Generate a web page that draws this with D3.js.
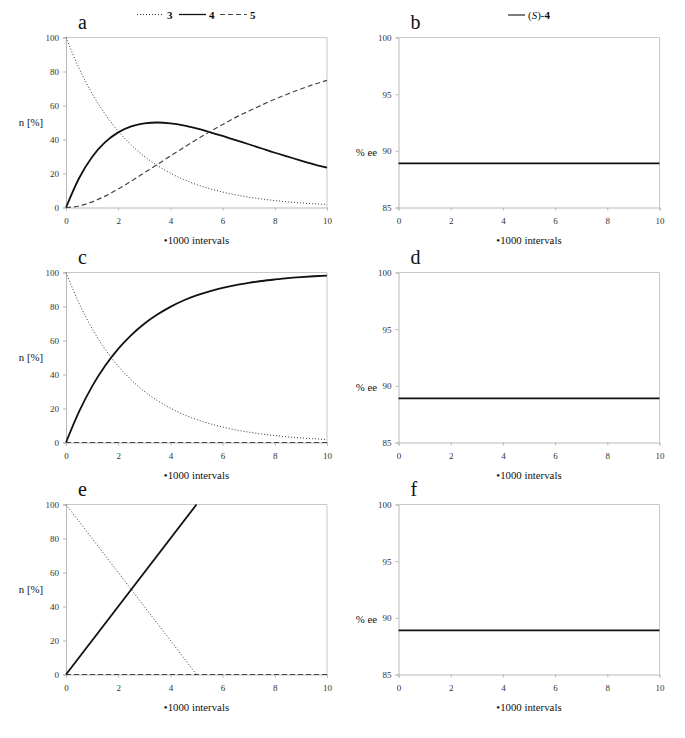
<!DOCTYPE html>
<html><head><meta charset="utf-8">
<script src="https://cdn.jsdelivr.net/npm/d3@7"></script>
<style>body{margin:0;background:#fff}svg{display:block}</style>
</head><body>
<script>
// ---- data ----
const xs = [0,0.5,1,1.5,2,2.5,3,3.5,4,4.5,5,5.5,6,6.5,7,7.5,8,8.5,9,9.5,10];
const a3 = [100,81.9,67.0,54.9,44.9,36.8,30.1,24.7,20.2,16.5,13.5,11.1,9.1,7.4,6.1,5.0,4.1,3.3,2.7,2.2,1.8];
const a4 = [0,17.2,29.7,38.4,44.2,47.7,49.5,50.0,49.5,48.3,46.5,44.4,42.1,39.6,37.2,34.7,32.2,29.9,27.6,25.4,23.4];
const a5 = [0,0.9,3.3,6.7,10.9,15.5,20.4,25.3,30.3,35.2,40.0,44.5,48.8,53.0,56.7,60.3,63.7,66.8,69.7,72.4,74.8];
const c3 = [100,81.9,67.0,54.9,44.9,36.8,30.1,24.7,20.2,16.5,13.5,11.1,9.1,7.4,6.1,5.0,4.1,3.3,2.7,2.2,1.8];
const c4 = [0,18.1,33.0,45.1,55.1,63.2,69.9,75.3,79.8,83.5,86.5,88.9,90.9,92.6,93.9,95.0,95.9,96.7,97.3,97.8,98.2];
const c5 = [0,0,0,0,0,0,0,0,0,0,0,0,0,0,0,0,0,0,0,0,0];
const eX34 = [0,5];
const e3 = [100,0];
const e4 = [0,100];
const eX5 = [0,10];
const e5 = [0,0];
const eeX = [0,10];
const eeB = [88.9,88.9];
const eeD = [88.9,88.9];
const eeF = [88.9,88.9];
const xTicks = [0,2,4,6,8,10];
const nTicks = [0,20,40,60,80,100];
const eeTicks = [85,90,95,100];
const panelLetters = ["a","b","c","d","e","f"];

// ---- layout ----
const W = 685, H = 738;
const svg = d3.select("body").append("svg").attr("width",W).attr("height",H);
const FONT = "\"Liberation Serif\", serif";
const colX = [66, 398.5];
const rowY = [37.5, 272.5, 504.5];
const pw = 261, ph = 170;

const styles = {
  dot:  {stroke:"#333", width:1, dash:"1,2"},
  solid:{stroke:"#111", width:1.8, dash:null},
  dash: {stroke:"#444", width:1.2, dash:"5,3"}
};

function txt(sel){ return sel.style("font-family",FONT); }

function panel(col,row,letter,yDomain,yTicks,yTitle,series){
  const x0 = colX[col], y0 = rowY[row];
  const g = svg.append("g").attr("transform",`translate(${x0},${y0})`);
  const x = d3.scaleLinear().domain([0,10]).range([0,pw]);
  const y = d3.scaleLinear().domain(yDomain).range([ph,0]);
  g.append("path").attr("d",`M0,0H${pw}V${ph}`).attr("fill","none").attr("stroke","#c8c8c8").attr("stroke-width",1);
  const ya = g.append("g").call(d3.axisLeft(y).tickValues(yTicks).tickSize(3).tickPadding(4));
  const xa = g.append("g").attr("transform",`translate(0,${ph})`).call(d3.axisBottom(x).tickValues(xTicks).tickSize(3).tickPadding(7));
  [ya,xa].forEach(a=>{
    a.attr("font-family",null).attr("font-size",null);
    a.selectAll("path,line").attr("stroke","#b8b8b8");
    txt(a.selectAll("text")).attr("font-size",9).attr("fill","#333");
  });
  series.forEach(s=>{
    const st = styles[s.style];
    const line = d3.line().x((d,i)=>x(s.x[i])).y(d=>y(d)).curve(d3.curveMonotoneX);
    const p = g.append("path").attr("d",line(s.y)).attr("fill","none")
      .attr("stroke",st.stroke).attr("stroke-width",st.width);
    if(st.dash) p.attr("stroke-dasharray",st.dash);
  });
  txt(g.append("text")).attr("x",pw/2).attr("y",ph+36).attr("text-anchor","middle")
    .attr("font-size",10.8).attr("fill","#111").text("\u20221000 intervals");
  if(yTitle==="n [%]"){
    txt(g.append("text")).attr("x",-35).attr("y",ph/2+3.5).attr("text-anchor","middle")
      .attr("font-size",10.8).attr("fill","#111").text(yTitle);
  } else {
    txt(g.append("text")).attr("x",-32).attr("y",118).attr("text-anchor","middle")
      .attr("font-size",10.8).attr("fill","#111").text(yTitle);
  }
  txt(g.append("text")).attr("x",12).attr("y",-9).attr("font-size",20)
    .attr("fill","#111").text(letter);
}

panel(0,0,panelLetters[0],[0,100],nTicks,"n [%]",[
  {x:xs,y:a3,style:"dot"},{x:xs,y:a4,style:"solid"},{x:xs,y:a5,style:"dash"}]);
panel(1,0,panelLetters[1],[85,100],eeTicks,"% ee",[{x:eeX,y:eeB,style:"solid"}]);
panel(0,1,panelLetters[2],[0,100],nTicks,"n [%]",[
  {x:xs,y:c3,style:"dot"},{x:xs,y:c4,style:"solid"},{x:xs,y:c5,style:"dash"}]);
panel(1,1,panelLetters[3],[85,100],eeTicks,"% ee",[{x:eeX,y:eeD,style:"solid"}]);
panel(0,2,panelLetters[4],[0,100],nTicks,"n [%]",[
  {x:eX5,y:e5,style:"dash"},{x:eX34,y:e3,style:"dot"},{x:eX34,y:e4,style:"solid"}]);
panel(1,2,panelLetters[5],[85,100],eeTicks,"% ee",[{x:eeX,y:eeF,style:"solid"}]);

// ---- legends ----
const leg = svg.append("g").attr("font-size",11).attr("font-weight","bold").attr("fill","#111");
const legItems = [
  {x1:137,x2:164,tx:167,label:"3",style:"dot"},
  {x1:179,x2:206,tx:209,label:"4",style:"solid"},
  {x1:220,x2:247,tx:250,label:"5",style:"dash"}
];
legItems.forEach(it=>{
  const st = styles[it.style];
  const l = leg.append("line").attr("x1",it.x1).attr("x2",it.x2).attr("y1",14.5).attr("y2",14.5)
    .attr("stroke",st.stroke).attr("stroke-width",it.style==="solid"?1.3:1);
  if(st.dash) l.attr("stroke-dasharray",st.dash);
  txt(leg.append("text")).attr("x",it.tx).attr("y",18.5).text(it.label);
});
svg.append("line").attr("x1",508).attr("x2",525).attr("y1",15).attr("y2",15).attr("stroke","#111").attr("stroke-width",1.1);
const t = txt(svg.append("text")).attr("x",528).attr("y",19).attr("font-size",11).attr("fill","#111");
t.append("tspan").text("(");
t.append("tspan").attr("font-style","italic").text("S");
t.append("tspan").text(")-");
t.append("tspan").attr("font-weight","bold").text("4");
</script>
</body></html>
